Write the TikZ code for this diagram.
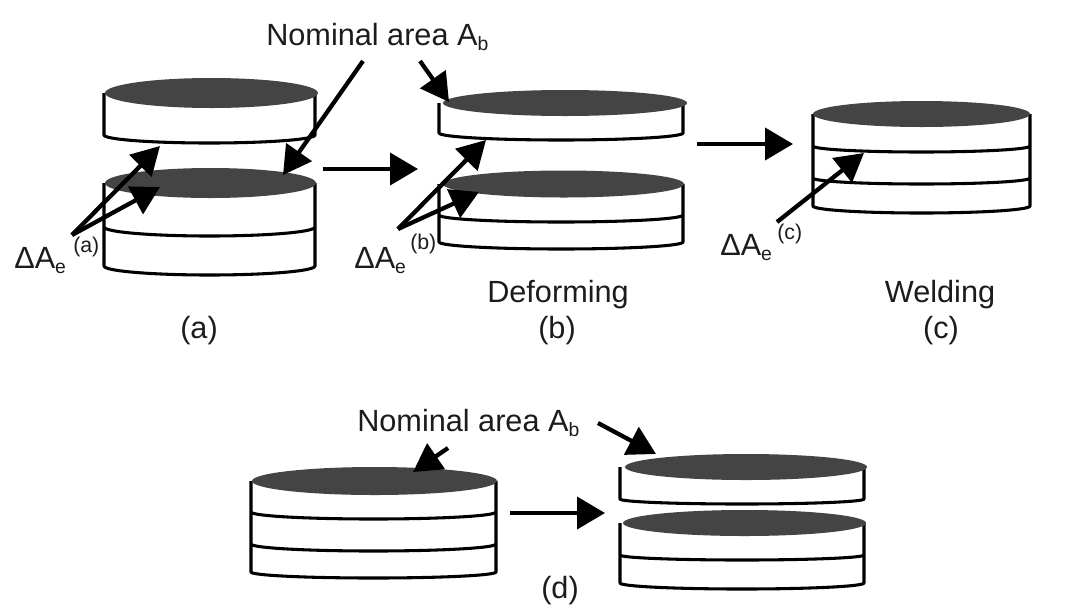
\documentclass[tikz,border=0pt]{standalone}
\usepackage{fontspec}
\setmainfont{Liberation Sans}
\usetikzlibrary{arrows.meta}
\definecolor{ink}{HTML}{1C1C1C}
\definecolor{disc}{HTML}{444444}
\newcommand{\subtxt}[1]{\raisebox{-0.17em}{\fontsize{14.5}{15}\selectfont #1}}
\newcommand{\cylbody}[5]{\filldraw[cyl,fill=white] (#1,#3) -- (#1,#4) arc[start angle=180,end angle=0,x radius={(#2-#1)/2},y radius=#5] -- (#2,#3);}
\newcommand{\cylline}[4]{\draw[cyl] (#1,#3) arc[start angle=180,end angle=0,x radius={(#2-#1)/2},y radius=#4];}
\newcommand{\cyltop}[4]{\fill[disc] ({(#1+#2)/2},#3) ellipse[x radius={(#2-#1)/2},y radius=#4];}
\tikzset{
  cyl/.style={draw=black,line width=2.3pt,line join=round},
  bigarrow/.style={draw=black,line width=3.2pt,-{Triangle[length=21pt,width=23pt,fill=black]}},
  flowarrow/.style={draw=black,line width=3pt,-{Triangle[length=21pt,width=24pt,fill=black]}},
  label/.style={anchor=base west,inner sep=0pt,text=ink,font=\fontsize{23}{25}\selectfont},
  biglabel/.style={anchor=base,inner sep=0pt,text=ink,font=\fontsize{23}{25}\selectfont},
  smalllabel/.style={anchor=base west,inner sep=0pt,text=ink,font=\fontsize{16}{18}\selectfont},
}
\begin{document}
\begin{tikzpicture}[x=0.75pt,y=-0.75pt]
\useasboundingbox (0,0) rectangle (1069,615);
% (a)
\cylbody{104}{315}{93}{135}{8}
\cyltop{105}{318}{93}{15}
\cylbody{104}{315}{183}{266}{9}
\cylline{104}{315}{227}{9}
\cyltop{105}{316}{183}{15}
% (b)
\cylbody{439}{683}{103}{133}{7}
\cyltop{443}{687}{103}{13}
\cylbody{439}{683}{184}{242}{7}
\cylline{439}{683}{215}{7}
\cyltop{443}{684}{184}{13.5}
% (c)
\cylbody{813}{1030}{114}{206}{7}
\cylline{813}{1030}{146}{6}
\cylline{813}{1030}{178}{6}
\cyltop{813}{1030}{114}{13}
% (d)
\cylbody{251}{496}{481}{572}{6}
\cylline{251}{496}{512}{7}
\cylline{251}{496}{544}{7}
\cyltop{252}{497}{481}{14}
\cylbody{620}{864}{467}{499}{5}
\cyltop{625}{867}{467}{13}
\cylbody{620}{864}{523}{583}{6}
\cylline{620}{864}{555}{5}
\cyltop{623}{866}{523}{13}
% arrow ends
\coordinate (nA) at (363,61);  \coordinate (nAtip) at (283,175);
\coordinate (nB) at (420,61);  \coordinate (nBtip) at (449,102);
\coordinate (fA) at (323,169); \coordinate (fAtip) at (418,169);
\coordinate (fB) at (697,144); \coordinate (fBtip) at (793,144);
\coordinate (fD) at (510,513); \coordinate (fDtip) at (605,513);
\coordinate (eA) at (72,235);  \coordinate (eAt1) at (160,146); \coordinate (eAt2) at (160,187);
\coordinate (eB) at (398,229); \coordinate (eBt1) at (486,140); \coordinate (eBt2) at (479,192);
\coordinate (eC) at (777,222); \coordinate (eCt) at (864,153);
\coordinate (nD) at (448,448); \coordinate (nDt) at (413,472);
\coordinate (nE) at (598,423); \coordinate (nEt) at (656,454);
\draw[bigarrow] (nA) -- (nAtip);
\draw[bigarrow] (nB) -- (nBtip);
\draw[flowarrow] (fA) -- (fAtip);
\draw[flowarrow] (fB) -- (fBtip);
\draw[flowarrow] (fD) -- (fDtip);
\draw[bigarrow] (eA) -- (eAt1);
\draw[bigarrow] (eA) -- (eAt2);
\draw[bigarrow] (eB) -- (eBt1);
\draw[bigarrow] (eB) -- (eBt2);
\draw[bigarrow] (eC) -- (eCt);
\draw[bigarrow] (nD) -- (nDt);
\draw[bigarrow] (nE) -- (nEt);
% text
\node[label] (nom1) at (266,45) {Nominal area A\subtxt{b}};
\node[label] (nom2) at (357,431) {Nominal area A\subtxt{b}};
\node[label] (de1) at (14,268) {ΔA\subtxt{e}};
\node[label] (de2) at (354,268) {ΔA\subtxt{e}};
\node[label] (de3) at (720,255) {ΔA\subtxt{e}};
\node[smalllabel] (sa) at (73,252) {(a)};
\node[smalllabel] (sb) at (410,249) {(b)};
\node[smalllabel] (sc) at (777,239) {(c)};
\node[biglabel] (def) at (558,302) {Deforming};
\node[biglabel] (wel) at (940,302) {Welding};
\node[biglabel] (la) at (199,338) {(a)};
\node[biglabel] (lb) at (557,338) {(b)};
\node[biglabel] (lc) at (941,338) {(c)};
\node[biglabel] (ld) at (560,598) {(d)};
\end{tikzpicture}
\end{document}
